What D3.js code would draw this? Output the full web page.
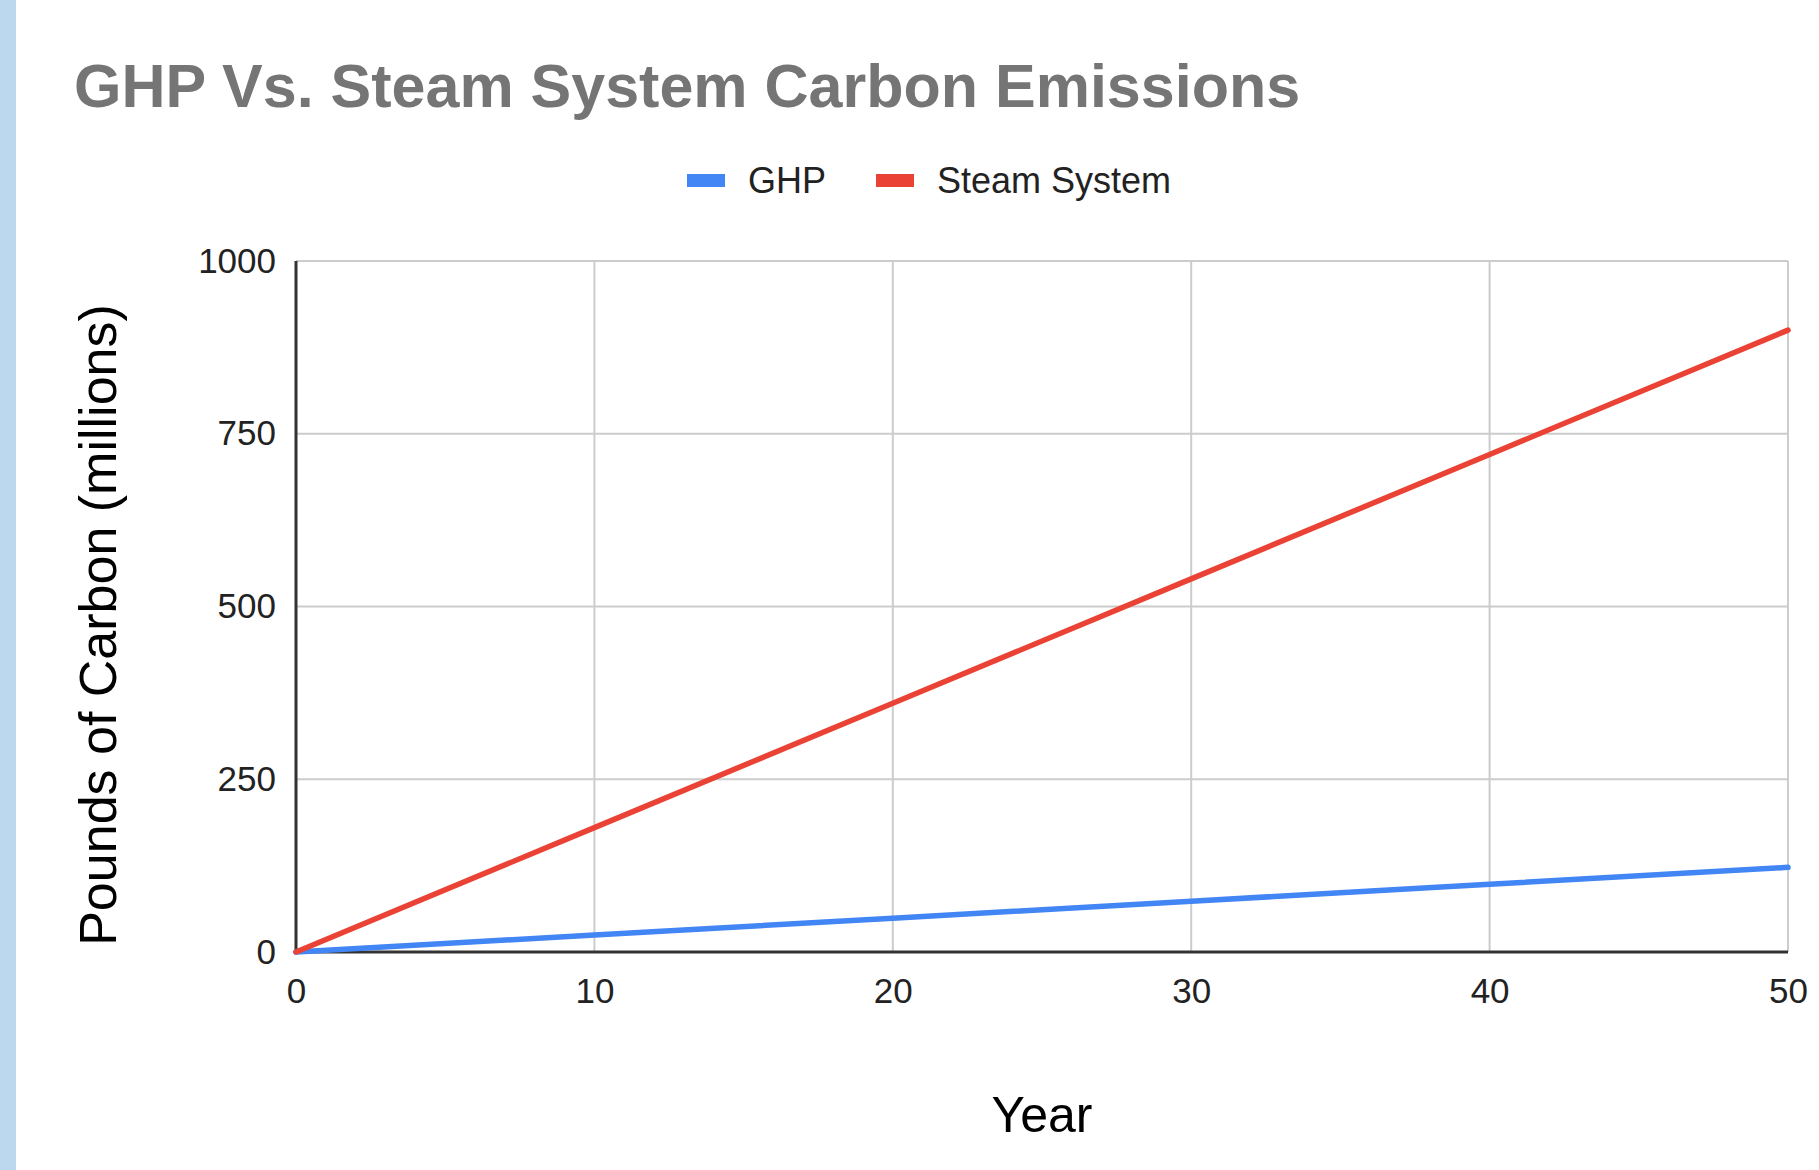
<!DOCTYPE html>
<html><head><meta charset="utf-8">
<script src="https://cdn.jsdelivr.net/npm/d3@7"></script>
<style>
html,body{margin:0;padding:0;background:#fff;}
svg{display:block;}
text{font-family:"Liberation Sans",Arial,sans-serif;}
</style></head>
<body>
<svg id="chart" width="1819" height="1170"></svg>
<script>
const years = [0, 10, 20, 30, 40, 50];
const ghp = [0, 24.5, 49, 73.5, 98, 122.5];
const steam = [0, 180, 360, 540, 720, 900];
const seriesNames = ["GHP", "Steam System"];
const seriesColors = ["#4285F4", "#EA4335"];
const xTicks = [0, 10, 20, 30, 40, 50];
const yTicks = [0, 250, 500, 750, 1000];

const svg = d3.select("#chart");
svg.append("rect").attr("x",0).attr("y",0).attr("width",1819).attr("height",1170).attr("fill","#fff");
svg.append("rect").attr("x",0).attr("y",0).attr("width",16).attr("height",1170).attr("fill","#bcd8ef");

const L = 296, R = 1788, T = 261, B = 952;
const x = d3.scaleLinear().domain([0,50]).range([L,R]);
const y = d3.scaleLinear().domain([0,1000]).range([B,T]);

// title
svg.append("text").attr("x",74).attr("y",107).attr("font-size",61).attr("font-weight","bold")
  .attr("fill","#757575").text("GHP Vs. Steam System Carbon Emissions");

// gridlines
const g = svg.append("g");
g.selectAll(".hg").data(yTicks.filter(d=>d>0)).join("line")
  .attr("x1",L).attr("x2",R).attr("y1",d=>y(d)).attr("y2",d=>y(d))
  .attr("stroke","#cccccc").attr("stroke-width",2);
g.selectAll(".vg").data(xTicks.filter(d=>d>0)).join("line")
  .attr("y1",T).attr("y2",B).attr("x1",d=>x(d)).attr("x2",d=>x(d))
  .attr("stroke","#cccccc").attr("stroke-width",2);

// axes
const xAxis = d3.axisBottom(x).tickValues(xTicks).tickSize(0).tickPadding(26).tickFormat(d3.format("d"));
const gx = svg.append("g").attr("transform",`translate(0,${B})`).call(xAxis);
gx.select(".domain").remove();
gx.selectAll("text").attr("font-size",35).attr("fill","#222").attr("font-family","Liberation Sans, Arial, sans-serif");

const yAxis = d3.axisLeft(y).tickValues(yTicks).tickSize(0).tickPadding(20).tickFormat(d3.format("d"));
const gy = svg.append("g").attr("transform",`translate(${L},0)`).call(yAxis);
gy.select(".domain").remove();
gy.selectAll("text").attr("font-size",35).attr("fill","#222").attr("font-family","Liberation Sans, Arial, sans-serif");

svg.append("line").attr("x1",L).attr("x2",L).attr("y1",T).attr("y2",B+1).attr("stroke","#333").attr("stroke-width",3);
svg.append("line").attr("x1",L).attr("x2",R).attr("y1",B).attr("y2",B).attr("stroke","#333").attr("stroke-width",3);

// lines
const line = d3.line().x((d,i)=>x(years[i])).y(d=>y(d));
[ghp, steam].forEach((s,i)=>{
  svg.append("path").datum(s).attr("d",line).attr("fill","none")
    .attr("stroke",seriesColors[i]).attr("stroke-width",5.5).attr("stroke-linecap","round");
});

// legend
const legX = [687, 876];
seriesNames.forEach((n,i)=>{
  svg.append("rect").attr("x",legX[i]).attr("y",174).attr("width",38).attr("height",13).attr("fill",seriesColors[i]);
  svg.append("text").attr("x",legX[i]+61).attr("y",193).attr("font-size",36).attr("fill","#222").text(n);
});

// axis titles
svg.append("text").attr("x",(L+R)/2).attr("y",1132).attr("text-anchor","middle").attr("font-size",50).attr("fill","#000").text("Year");
svg.append("text").attr("transform","translate(116,625) rotate(-90)").attr("text-anchor","middle").attr("font-size",52).attr("fill","#000").text("Pounds of Carbon (millions)");
</script>
</body></html>
